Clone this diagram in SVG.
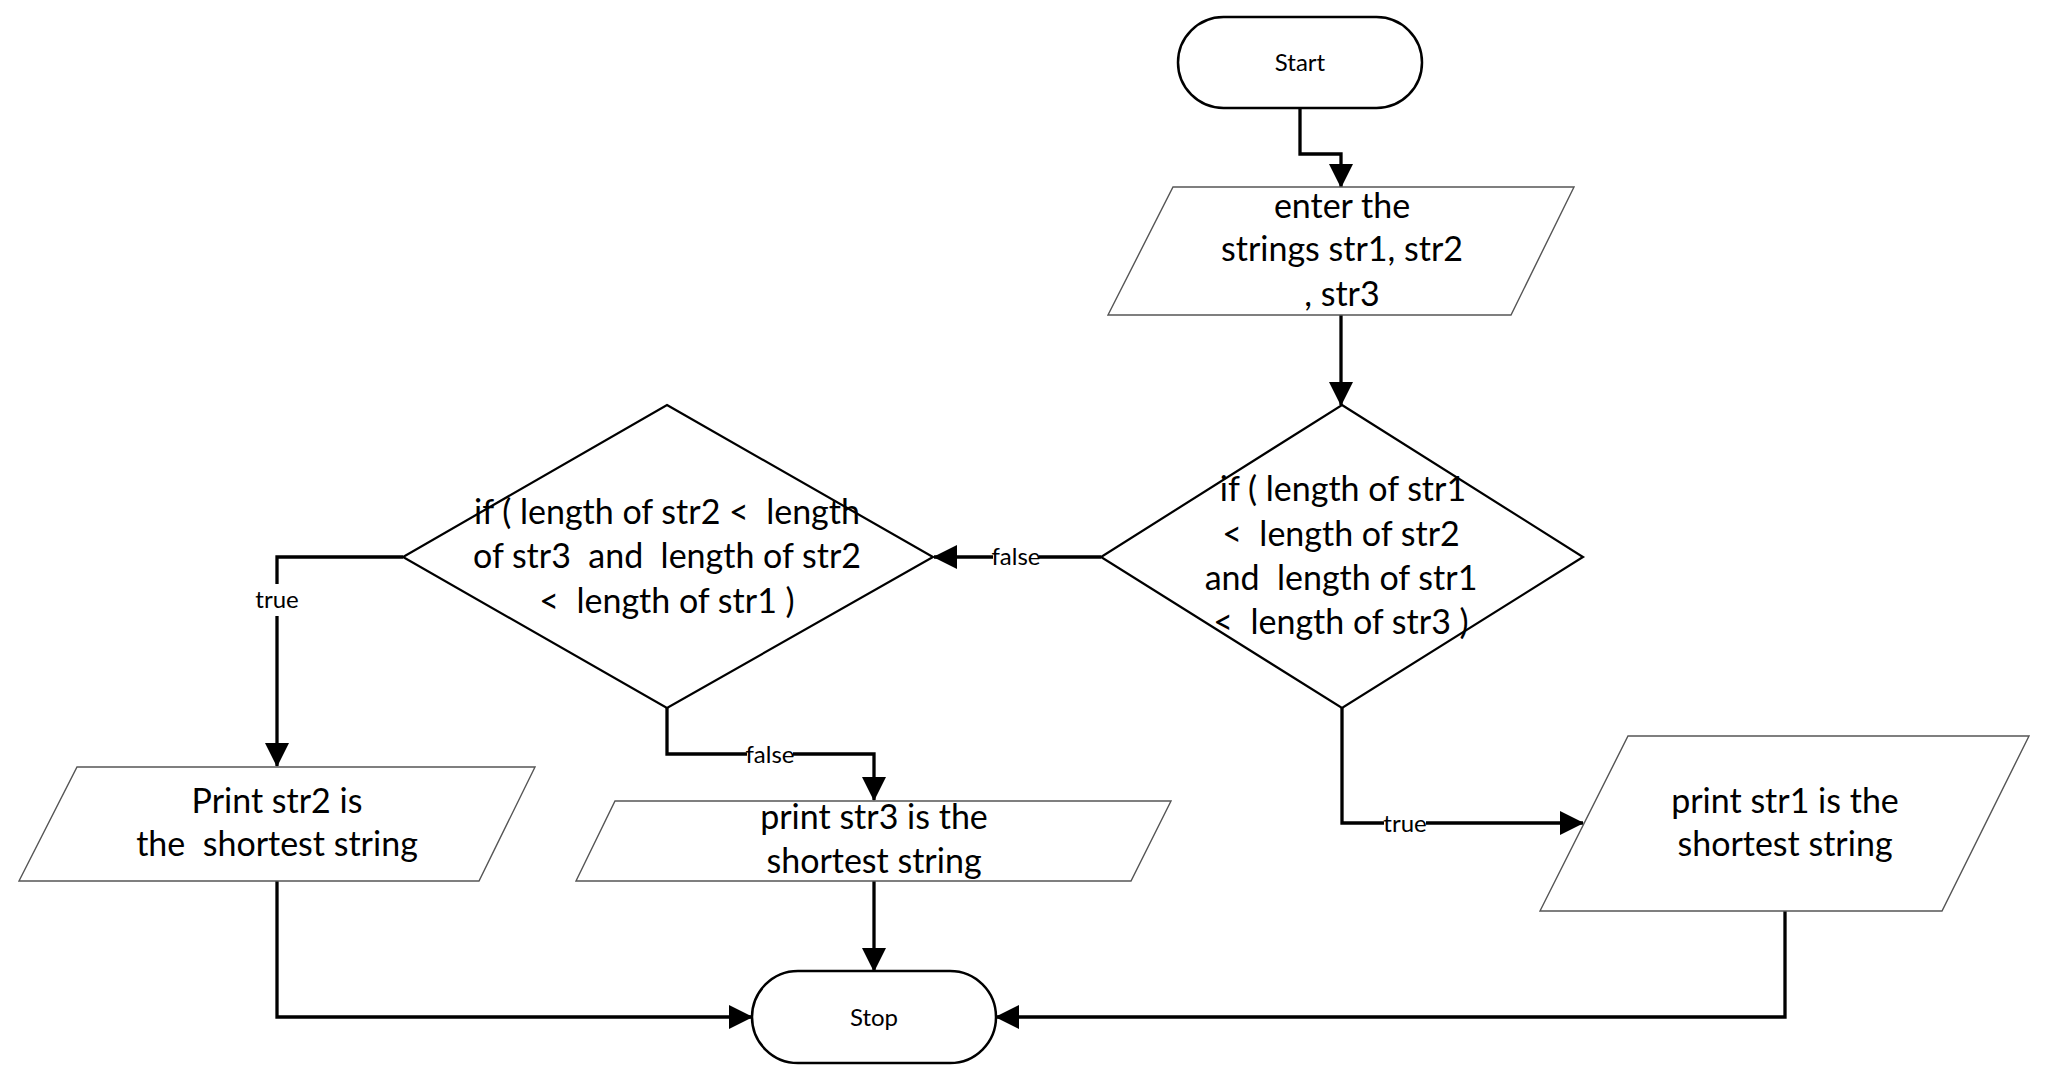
<svg xmlns="http://www.w3.org/2000/svg" width="2048" height="1082" viewBox="0 0 2048 1082" xml:space="preserve">
<style>
.bg{fill:#fff}
.term{fill:#fff;stroke:#000;stroke-width:2.5}
.io{fill:#fff;stroke:#555;stroke-width:1.4}
.dec{fill:#fff;stroke:#000;stroke-width:2.2}
.t{font-family:Lato,"Open Sans",sans-serif;font-size:34px;fill:#000;text-anchor:middle;white-space:pre}
.s{font-family:Lato,"Open Sans",sans-serif;font-size:24px;fill:#000;text-anchor:middle;white-space:pre}
.c{fill:none;stroke:#000;stroke-width:3.3}
.lb{fill:#fff}
</style>
<defs>
<marker id="ah" markerUnits="userSpaceOnUse" markerWidth="25" markerHeight="25" refX="23" refY="12" orient="auto" viewBox="0 0 25 24">
<path d="M0,0 L24,12 L0,24 z" fill="#000"/>
</marker>
</defs>
<rect class="bg" x="0" y="0" width="2048" height="1082"/>
<g id="connectors">
<path class="c" d="M1300,108 V154 H1341 V187" marker-end="url(#ah)"/>
<path class="c" d="M1341,315 V405" marker-end="url(#ah)"/>
<path class="c" d="M1101,557 H934" marker-end="url(#ah)"/>
<path class="c" d="M403,557 H277 V766" marker-end="url(#ah)"/>
<path class="c" d="M667,708 V754 H874 V800" marker-end="url(#ah)"/>
<path class="c" d="M1342,708 V823 H1583" marker-end="url(#ah)"/>
<path class="c" d="M277,881 V1017 H752" marker-end="url(#ah)"/>
<path class="c" d="M874,881 V971" marker-end="url(#ah)"/>
<path class="c" d="M1785,911 V1017 H996" marker-end="url(#ah)"/>
<rect class="lb" x="993" y="545" width="46" height="24"/>
<text class="s" x="1016" y="565">false</text>
<rect class="lb" x="256" y="584" width="42" height="32"/>
<text class="s" x="277" y="608">true</text>
<rect class="lb" x="747" y="742" width="46" height="24"/>
<text class="s" x="770" y="763">false</text>
<rect class="lb" x="1384" y="811" width="42" height="24"/>
<text class="s" x="1405" y="832">true</text>
</g>
<g id="start">
<rect class="term" x="1178" y="17" width="244" height="91" rx="45.5"/>
<text class="s" x="1300" y="71">Start</text>
</g>
<g id="enter">
<polygon class="io" points="1173,187 1574,187 1511,315 1108,315"/>
<text class="t" x="1342" y="218">enter the</text>
<text class="t" x="1342" y="261">strings str1, str2</text>
<text class="t" x="1342" y="306">, str3</text>
</g>
<g id="decision1">
<polygon class="dec" points="1342,405 1583,557 1342,708 1101,557"/>
<text class="t" x="1343" y="501">if ( length of str1</text>
<text class="t" x="1341" y="546">&lt;  length of str2</text>
<text class="t" x="1341" y="590">and  length of str1</text>
<text class="t" x="1341" y="634">&lt;  length of str3 )</text>
</g>
<g id="decision2">
<polygon class="dec" points="667,405 933,557 667,708 403,557"/>
<text class="t" x="667" y="524">if ( length of str2 &lt;  length</text>
<text class="t" x="667" y="568">of str3  and  length of str2</text>
<text class="t" x="667" y="613">&lt;  length of str1 )</text>
</g>
<g id="print2">
<polygon class="io" points="77,767 535,767 479,881 19,881"/>
<text class="t" x="277" y="813">Print str2 is</text>
<text class="t" x="277" y="856">the  shortest string</text>
</g>
<g id="print3">
<polygon class="io" points="615,801 1171,801 1131,881 576,881"/>
<text class="t" x="874" y="829">print str3 is the</text>
<text class="t" x="874" y="873">shortest string</text>
</g>
<g id="print1">
<polygon class="io" points="1628,736 2029,736 1942,911 1540,911"/>
<text class="t" x="1785" y="813">print str1 is the</text>
<text class="t" x="1785" y="856">shortest string</text>
</g>
<g id="stop">
<rect class="term" x="752" y="971" width="244" height="92" rx="46"/>
<text class="s" x="874" y="1026">Stop</text>
</g>
</svg>
